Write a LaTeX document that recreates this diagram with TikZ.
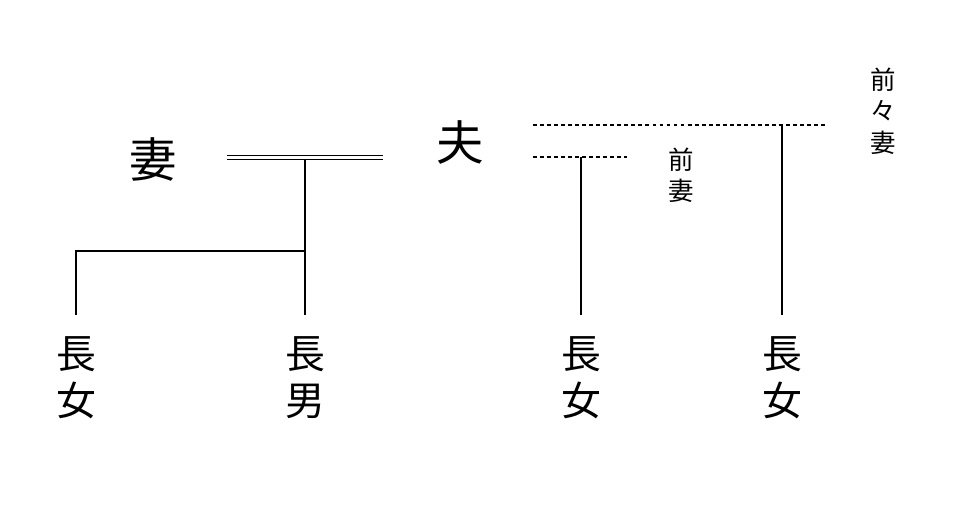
\documentclass[tikz,border=0pt]{standalone}
\usepackage{fontspec}
\newfontfamily\jp{Noto Sans CJK JP}
\usepackage{tikz}
\usetikzlibrary{positioning}
\tikzset{
  bigname/.style={font=\jp\fontsize{27}{30}\selectfont, inner sep=0pt},
  kidname/.style={font=\jp\fontsize{22.7}{26.6}\selectfont, align=center, inner sep=0pt},
  exname/.style={font=\jp\fontsize{14.5}{17.8}\selectfont, align=center, inner sep=0pt},
  tie/.style={line width=1.1pt},
  marriage/.style={double, double distance=1.5pt, line width=0.85pt},
  exline/.style={line width=1pt, dash pattern=on 2.2pt off 1.8pt},
}

\begin{document}
\begin{tikzpicture}[x=0.2mm,y=-0.2mm]
  \useasboundingbox (0,0) rectangle (960,504); % 960x504 px
  % parents
  \node[bigname] (wife) at (153,159) {妻};
  \node[bigname] (husband) at (460,142) {夫};
  \node[exname] (exwife) at (681,175) {前\\妻};
  \node[exname] (exexwife) at (883,111) {前\\々\\妻};
  % children
  \node[kidname] (daughterA) at (76,378) {長\\女};
  \node[kidname] (son) at (305,378) {長\\男};
  \node[kidname] (daughterB) at (581,378) {長\\女};
  \node[kidname] (daughterC) at (782,378) {長\\女};
  % junctions
  \coordinate (mL) at (227,157.5);
  \coordinate (mR) at (383,157.5);
  \coordinate (mC) at (305,159);
  \coordinate (kids) at (305,251);
  \coordinate (kidsL) at (76,251);
  \coordinate (topA) at (76,315);
  \coordinate (topS) at (305,315);
  \coordinate (topB) at (581,315);
  \coordinate (topC) at (782,315);
  \coordinate (exL) at (533,157);
  \coordinate (exR) at (627,157);
  \coordinate (exB) at (581,157);
  \coordinate (exexL) at (533,125);
  \coordinate (exexR) at (828,125);
  \coordinate (exexB) at (782,125);
  % lines
  \draw[marriage] (mL) -- (mR);
  \draw[tie] (mC) -- (topS);
  \draw[tie] (kids) -- (kidsL) -- (topA);
  \draw[exline] (exL) -- (exR);
  \draw[exline] (exexL) -- (exexR);
  \draw[tie] (exB) -- (topB);
  \draw[tie] (exexB) -- (topC);
\end{tikzpicture}
\end{document}
